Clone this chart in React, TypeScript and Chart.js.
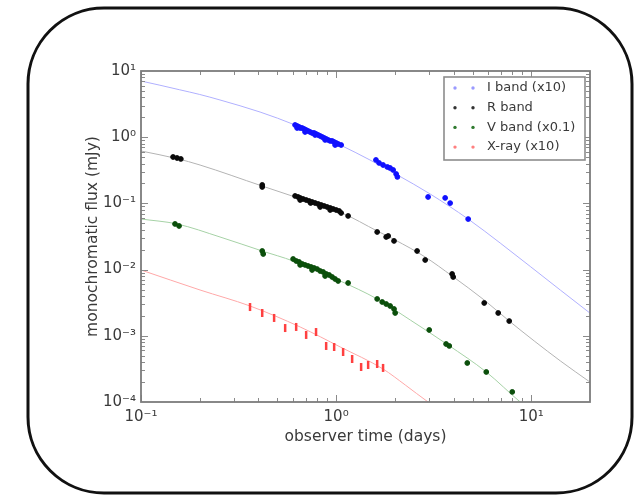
import React, { useEffect, useRef } from 'react';
import { Chart, registerables } from 'chart.js';

Chart.register(...registerables);

// ---- axes ----
const X_TICKS = [0.1, 1, 10];
const X_TICK_LABELS = ['10⁻¹', '10⁰', '10¹'];
const Y_TICKS = [1e-4, 1e-3, 1e-2, 1e-1, 1, 10];
const Y_TICK_LABELS = ['10⁻⁴', '10⁻³', '10⁻²', '10⁻¹', '10⁰', '10¹'];
const X_TITLE = 'observer time (days)';
const Y_TITLE = 'monochromatic flux (mJy)';

// ---- series labels ----
const LABELS = ['I band (x10)', 'R band', 'V band (x0.1)', 'X-ray (x10)'];

// ---- I band (x10) data ----
const I_T = [0.616, 0.631, 0.631, 0.646, 0.654, 0.669, 0.685, 0.693, 0.701, 0.718, 0.735, 0.753, 0.771, 0.78, 0.789, 0.808, 0.828, 0.848, 0.868, 0.878, 0.889, 0.91, 0.932, 0.954, 0.976, 0.988, 1.0, 1.024, 1.061,
  1.6, 1.66, 1.74, 1.83, 1.89, 1.96, 2.03, 2.06,
  2.96, 3.62, 3.84, 4.75];
const I_F = [1.53, 1.476, 1.377, 1.426, 1.377, 1.377, 1.33, 1.199, 1.285, 1.241, 1.199, 1.158, 1.158, 1.08, 1.118, 1.08, 1.043, 1.007, 0.973, 0.908, 0.94, 0.908, 0.877, 0.877, 0.846, 0.762, 0.817, 0.789, 0.762,
  0.453, 0.408, 0.38, 0.355, 0.343, 0.32, 0.278, 0.251,
  0.125, 0.121, 0.101, 0.058];
const I_MODEL_T = [0.1, 0.125, 0.158, 0.2, 0.254, 0.4075, 0.616, 1.05, 1.49, 2.06, 3.03, 4.75, 6.93, 14.1, 20];
const I_MODEL_F = [7.06, 6.1, 5.2, 4.42, 3.65, 2.4, 1.53, 0.762, 0.453, 0.269, 0.139, 0.058, 0.0252, 0.0049, 0.0022];

// ---- R band data ----
const R_T = [0.146, 0.153, 0.16, 0.418, 0.418, 0.616, 0.638, 0.654, 0.654, 0.677, 0.702, 0.727, 0.74, 0.753, 0.78, 0.809, 0.828, 0.838, 0.868, 0.899, 0.932, 0.932, 0.965, 1.0, 1.036, 1.061, 1.152, 1.623, 1.805, 1.848, 1.98, 2.6, 2.86, 3.93, 3.98, 5.74, 6.77, 7.71];
const R_F = [0.502, 0.485, 0.469, 0.19, 0.177, 0.1295, 0.125, 0.1207, 0.1125, 0.1165, 0.1125, 0.1087, 0.1014, 0.105, 0.1014, 0.0979, 0.0883, 0.0946, 0.0914, 0.0883, 0.0853, 0.0795, 0.0823, 0.0795, 0.0768, 0.0716, 0.0646, 0.037, 0.0311, 0.0322, 0.0271, 0.0191, 0.01396, 0.00859, 0.00773, 0.00313, 0.00221, 0.00167];
const R_MODEL_T = [0.1, 0.153, 0.2007, 0.418, 0.616, 1.073, 1.623, 2.007, 2.86, 3.93, 5.74, 7.71, 14.1, 20];
const R_MODEL_F = [0.619, 0.475, 0.38, 0.183, 0.125, 0.0716, 0.0383, 0.028, 0.01549, 0.008, 0.00347, 0.00167, 0.000417, 0.0002];

// ---- V band (x0.1) data ----
const V_T = [0.1494, 0.1567, 0.418, 0.423, 0.602, 0.624, 0.646, 0.654, 0.67, 0.693, 0.718, 0.744, 0.753, 0.771, 0.799, 0.828, 0.858, 0.878, 0.889, 0.921, 0.954, 0.988, 1.024, 1.152, 1.623, 1.722, 1.805, 1.892, 1.98, 2.007, 3.0, 3.66, 3.8, 4.7, 5.88, 7.99];
const V_F = [0.0489, 0.0456, 0.0191, 0.0172, 0.01445, 0.01349, 0.01303, 0.01175, 0.01216, 0.01175, 0.01134, 0.01095, 0.00986, 0.01057, 0.0102, 0.00952, 0.0092, 0.008, 0.00859, 0.00829, 0.00773, 0.00721, 0.00673, 0.00628, 0.0036, 0.00324, 0.00302, 0.00282, 0.00254, 0.00221, 0.001224, 0.000752, 0.000702, 0.000388, 0.000284, 0.000142];
const V_MODEL_T = [0.1, 0.153, 0.254, 0.418, 0.602, 1.05, 1.623, 2.4, 3.75, 5.88, 8.78, 9.9];
const V_MODEL_F = [0.0581, 0.0489, 0.0311, 0.0191, 0.01349, 0.00673, 0.0036, 0.00173, 0.000726, 0.000284, 0.0001, 0.000076];

// ---- X-ray (x10) data ----
const X_T = [0.362, 0.418, 0.481, 0.548, 0.624, 0.702, 0.789, 0.889, 0.977, 1.086, 1.208, 1.343, 1.459, 1.623, 1.74];
const X_F = [0.00272, 0.00221, 0.00186, 0.00131, 0.00136, 0.00103, 0.00114, 0.000702, 0.000678, 0.000569, 0.000446, 0.000338, 0.000362, 0.000375, 0.000327];
const X_MODEL_T = [0.1, 0.2007, 0.362, 0.654, 1.05, 1.74, 2.26, 2.96, 3.41];
const X_MODEL_F = [0.00986, 0.00492, 0.00282, 0.00136, 0.000678, 0.000315, 0.000181, 0.0001, 0.000076];

const FONT = 'DejaVu Sans';
const TEXT_COLOR = '#3a3a3a';

const zip = (t: number[], f: number[]) => t.map((v, i) => ({ x: v, y: f[i] }));

const framePlugin = {
  id: 'frameTicks',
  afterDatasetsDraw(chart: any) {
    const { ctx, chartArea: a, scales } = chart;
    const xs = scales.x;
    const ys = scales.y;
    ctx.save();
    ctx.beginPath();
    ctx.strokeStyle = '#8a8a8a';
    ctx.lineWidth = 1;
    for (let e = -1; e <= 1; e++) {
      for (let m = 1; m <= 9; m++) {
        const v = m * Math.pow(10, e);
        const p = Math.round(xs.getPixelForValue(v)) + 0.5;
        if (p < a.left || p > a.right) continue;
        const len = m === 1 ? 7 : 4;
        ctx.moveTo(p, a.bottom);
        ctx.lineTo(p, a.bottom - len);
        ctx.moveTo(p, a.top);
        ctx.lineTo(p, a.top + len);
      }
    }
    for (let e = -4; e <= 0; e++) {
      for (let m = 1; m <= 9; m++) {
        const v = m * Math.pow(10, e);
        const p = Math.round(ys.getPixelForValue(v)) + 0.5;
        if (p < a.top || p > a.bottom) continue;
        const len = m === 1 ? 7 : 4;
        ctx.moveTo(a.left, p);
        ctx.lineTo(a.left + len, p);
        ctx.moveTo(a.right, p);
        ctx.lineTo(a.right - len, p);
      }
    }
    ctx.stroke();
    ctx.strokeStyle = '#7c7c7c';
    ctx.lineWidth = 1.8;
    ctx.strokeRect(a.left, a.top, a.right - a.left, a.bottom - a.top);
    ctx.restore();
  },
};

const legendPlugin = {
  id: 'boxLegend',
  afterDraw(chart: any) {
    const { ctx, chartArea: a } = chart;
    const items = chart.data.datasets.filter((d: any) => !d.isModel);
    const w = 141;
    const h = 83;
    const left = a.right - 5 - w;
    const top = a.top + 6;
    ctx.save();
    ctx.fillStyle = '#ffffff';
    ctx.fillRect(left, top, w, h);
    ctx.strokeStyle = '#8c8c8c';
    ctx.lineWidth = 1.6;
    ctx.strokeRect(left, top, w, h);
    ctx.font = `13px "${FONT}"`;
    ctx.textBaseline = 'middle';
    ctx.textAlign = 'left';
    items.forEach((d: any, i: number) => {
      const y = top + 11 + i * 19.7;
      ctx.fillStyle = d.legendColor;
      [left + 11, left + 29].forEach((mx) => {
        ctx.beginPath();
        ctx.arc(mx, y, 1.7, 0, Math.PI * 2);
        ctx.fill();
      });
      ctx.fillStyle = TEXT_COLOR;
      ctx.fillText(d.label, left + 43, y);
    });
    ctx.restore();
  },
};

const borderPlugin = {
  id: 'roundBorder',
  afterDraw(chart: any) {
    const { ctx } = chart;
    ctx.save();
    ctx.beginPath();
    ctx.lineWidth = 3;
    ctx.strokeStyle = '#111111';
    (ctx as any).roundRect(28, 8, 604, 485, 76);
    ctx.stroke();
    ctx.restore();
  },
};

export default function App() {
  const ref = useRef<HTMLCanvasElement | null>(null);

  useEffect(() => {
    if (!ref.current) return;
    const tickFont = { family: FONT, size: 15 };
    const titleFont = { family: FONT, size: 15.5 };
    const dataDs = (label: string, t: number[], f: number[], color: string, legendColor: string, extra: any = {}) => ({
      label,
      data: zip(t, f),
      backgroundColor: color,
      borderColor: color,
      pointRadius: 2.4,
      pointBorderWidth: 1,
      showLine: false,
      order: 0,
      legendColor,
      ...extra,
    });
    const modelDs = (t: number[], f: number[], color: string) => ({
      label: '',
      isModel: true,
      data: zip(t, f),
      borderColor: color,
      backgroundColor: color,
      borderWidth: 1,
      pointRadius: 0,
      showLine: true,
      cubicInterpolationMode: 'monotone',
      order: 1,
    });
    const chart = new Chart(ref.current, {
      type: 'scatter',
      data: {
        datasets: [
          dataDs(LABELS[0], I_T, I_F, '#1010ff', '#9a9aff'),
          dataDs(LABELS[1], R_T, R_F, '#0a0a0a', '#333333'),
          dataDs(LABELS[2], V_T, V_F, '#0b4f0b', '#2f7a2f'),
          dataDs(LABELS[3], X_T, X_F, '#ff4040', '#ff8080', { pointStyle: 'line', rotation: 90, pointRadius: 4, pointBorderWidth: 2.5 }),
          modelDs(I_MODEL_T, I_MODEL_F, '#b0b0ff'),
          modelDs(R_MODEL_T, R_MODEL_F, '#b4b4b4'),
          modelDs(V_MODEL_T, V_MODEL_F, '#a6d2a6'),
          modelDs(X_MODEL_T, X_MODEL_F, '#ffa8a8'),
        ] as any,
      },
      options: {
        animation: false,
        responsive: false,
        devicePixelRatio: 1,
        layout: { padding: { left: 80, top: 71, right: 47, bottom: 50 } },
        plugins: { legend: { display: false }, tooltip: { enabled: false } },
        scales: {
          x: {
            type: 'logarithmic',
            position: 'bottom',
            min: 0.1,
            max: 20,
            grid: { display: false, drawTicks: false },
            border: { display: false },
            afterBuildTicks: (s: any) => {
              s.ticks = X_TICKS.map((v) => ({ value: v }));
            },
            afterFit: (s: any) => {
              s.height = 48;
            },
            ticks: {
              autoSkip: false,
              maxRotation: 0,
              padding: 6,
              color: TEXT_COLOR,
              font: tickFont,
              callback: (_v: any, i: number) => X_TICK_LABELS[i],
            },
            title: { display: true, text: X_TITLE, color: TEXT_COLOR, font: titleFont, padding: { top: 0, bottom: 4 } },
          },
          y: {
            type: 'logarithmic',
            position: 'left',
            min: 1e-4,
            max: 10,
            grid: { display: false, drawTicks: false },
            border: { display: false },
            afterBuildTicks: (s: any) => {
              s.ticks = Y_TICKS.map((v) => ({ value: v }));
            },
            afterFit: (s: any) => {
              s.width = 61;
            },
            ticks: {
              autoSkip: false,
              padding: 5,
              color: TEXT_COLOR,
              font: tickFont,
              callback: (_v: any, i: number) => Y_TICK_LABELS[i],
            },
            title: { display: true, text: Y_TITLE, color: TEXT_COLOR, font: titleFont, padding: { top: 4, bottom: 0 } },
          },
        },
      } as any,
      plugins: [framePlugin, legendPlugin, borderPlugin],
    });
    return () => chart.destroy();
  }, []);

  return (
    <div style={{ position: 'absolute', left: 0, top: 0, width: 637, height: 500, background: '#ffffff' }}>
      <canvas ref={ref} width={637} height={500} style={{ display: 'block', width: 637, height: 500 }} />
    </div>
  );
}
